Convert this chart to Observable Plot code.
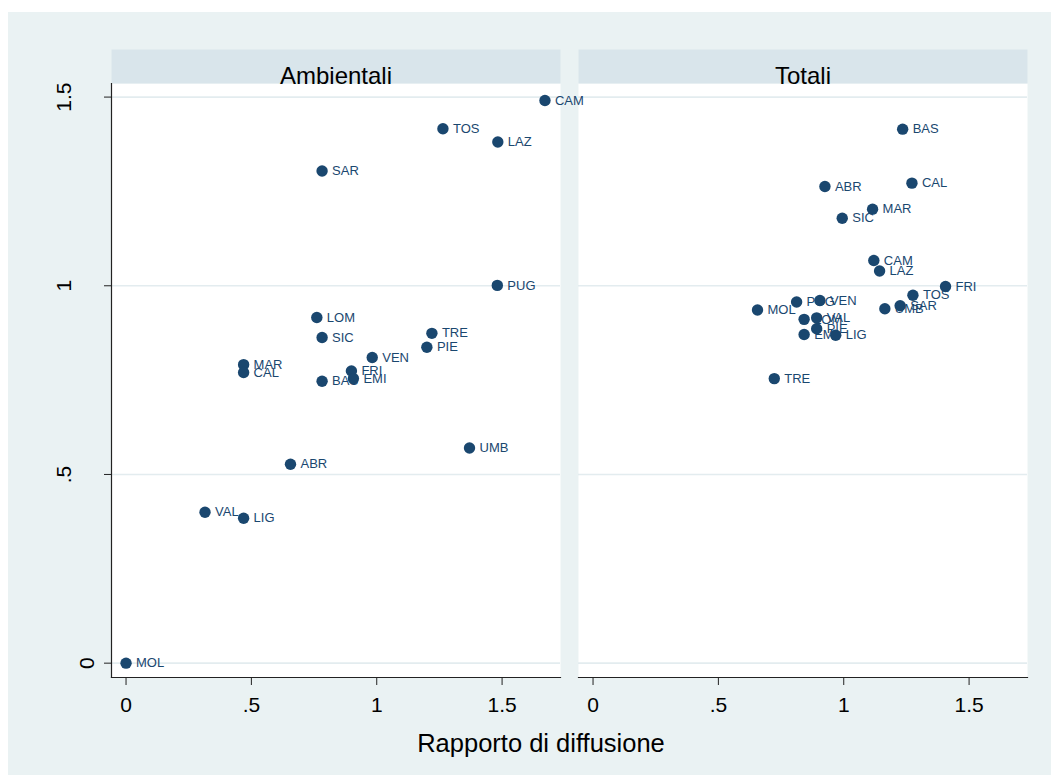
<!DOCTYPE html>
<html><head><meta charset="utf-8">
<script src="https://cdn.jsdelivr.net/npm/d3@7"></script>
<script src="https://cdn.jsdelivr.net/npm/@observablehq/plot@0.6"></script>
<style>
body{margin:0;background:#fff;}
#wrap{position:relative;width:1051px;height:775px;overflow:hidden;}
#bg{position:absolute;left:8px;top:12px;width:1043px;height:763px;background:#eaf2f3;}
#chart{position:absolute;left:0;top:0;}
#title{position:absolute;left:0;width:1082px;top:731px;text-align:center;font-family:"Liberation Sans",Arial,sans-serif;font-size:25.5px;line-height:25px;color:#000;}
</style></head>
<body>
<div id="wrap"><div id="bg"></div><div id="chart"></div><div id="title">Rapporto di diffusione</div></div>
<script>
const panels = ["Ambientali", "Totali"];
const tickValues = [0, 0.5, 1, 1.5];
const tickLabels = ["0", ".5", "1", "1.5"];

const ambLabels = ["CAM","TOS","LAZ","SAR","PUG","LOM","SIC","TRE","PIE","VEN","MAR","CAL","FRI","EMI","BAS","UMB","ABR","VAL","LIG","MOL"];
const ambX = [1.671,1.264,1.483,0.782,1.481,0.761,0.782,1.220,1.200,0.982,0.469,0.469,0.899,0.907,0.782,1.370,0.656,0.315,0.469,0];
const ambY = [1.491,1.416,1.381,1.304,1.001,0.916,0.863,0.874,0.837,0.810,0.791,0.770,0.774,0.754,0.747,0.570,0.527,0.400,0.384,0];

const totLabels = ["BAS","ABR","CAL","MAR","SIC","CAM","LAZ","FRI","TOS","SAR","UMB","MOL","PUG","VEN","LOM","VAL","PIE","EMI","LIG","TRE"];
const totX = [1.235,0.925,1.272,1.115,0.994,1.120,1.143,1.406,1.276,1.225,1.164,0.656,0.812,0.905,0.842,0.892,0.892,0.842,0.968,0.723];
const totY = [1.415,1.263,1.272,1.203,1.179,1.067,1.039,0.998,0.975,0.947,0.939,0.936,0.957,0.961,0.911,0.915,0.886,0.871,0.869,0.754];

const rows = [
  ...ambLabels.map((r, i) => ({panel: panels[0], region: r, x: ambX[i], y: ambY[i]})),
  ...totLabels.map((r, i) => ({panel: panels[1], region: r, x: totX[i], y: totY[i]}))
];
const fmt = d => tickLabels[tickValues.indexOf(d)];
const navy = "#1a476f";

const chart = Plot.plot({
  width: 1051, height: 775,
  marginLeft: 111, marginRight: 23, marginTop: 83, marginBottom: 98,
  style: {background: "transparent", fontFamily: "'Liberation Sans', Arial, sans-serif", overflow: "visible", color: "#000"},
  fx: {domain: panels, paddingInner: 0.0385, paddingOuter: 0, axis: null},
  x: {domain: [-0.058, 1.733]},
  y: {domain: [-0.038, 1.536]},
  marks: [
    Plot.frame({fill: "white", stroke: null}),
    Plot.frame({fill: "#d9e5eb", stroke: null, insetTop: -34, insetBottom: 594}),
    Plot.gridY(tickValues, {stroke: "#e3ecef", strokeOpacity: 1, strokeWidth: 1.6}),
    Plot.frame({anchor: "bottom", stroke: "#222", strokeWidth: 1.2}),
    Plot.frame({anchor: "left", facetAnchor: "left", stroke: "#222", strokeWidth: 1.2}),
    Plot.axisX({ticks: tickValues, tickFormat: fmt, tickSize: 8, tickPadding: 12, fontSize: 21, label: null, stroke: "#222"}),
    Plot.axisY({ticks: [0], tickFormat: fmt, tickSize: 7, tickPadding: 11, tickRotate: -90, fontSize: 21, label: null, stroke: "#222"}),
    Plot.axisY({ticks: [0.5, 1, 1.5], tickFormat: fmt, tickSize: 7, tickPadding: 34, tickRotate: -90, fontSize: 21, label: null, stroke: "#222"}),
    Plot.text(panels, {fx: d => d, text: d => d, frameAnchor: "top", dy: -17, fontSize: 24, fill: "#000"}),
    Plot.text(rows, {fx: "panel", x: "x", y: "y", text: "region", dx: 10, textAnchor: "start", fontSize: 13, fill: navy}),
    Plot.dot(rows, {fx: "panel", x: "x", y: "y", r: 5.7, fill: navy, stroke: null})
  ]
});
document.getElementById("chart").appendChild(chart);
</script>
</body></html>
